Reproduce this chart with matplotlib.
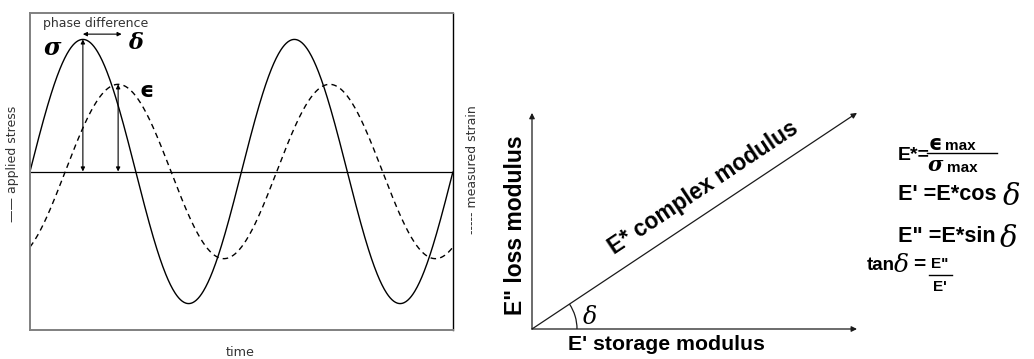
import numpy as np
import matplotlib
matplotlib.use("Agg")
import matplotlib.pyplot as plt
from matplotlib.patches import Arc
from matplotlib.lines import Line2D

W, H = 1034, 359

# Oscillation: phase angle (degrees) over two cycles
phase_deg = np.linspace(0, 720, 721)
stress_amp = 1.0      # applied stress amplitude
strain_amp = 0.66     # measured strain amplitude
delta_deg = 60.0      # phase lag of strain behind stress

# Phasor diagram components
storage_modulus = 1.0   # E'
loss_modulus = 0.665    # E''

fig = plt.figure(figsize=(W / 100, H / 100), dpi=100)
fig.patch.set_facecolor("white")


def fx(x):
    return x / W


def fy(y):
    return 1 - y / H


def ftext(x, y, s, **kw):
    fig.text(fx(x), fy(y), s, transform=fig.transFigure, **kw)


SANS = ["DejaVu Sans"]
BOLD = ["Liberation Sans", "DejaVu Sans"]
GREEK = ["DejaVu Serif", "DejaVu Sans"]
GRAY_TXT = "#333333"

# ---------------- left: stress / strain waveforms ----------------
ax = fig.add_axes([fx(30), fy(330), (453 - 30) / W, (330 - 13) / H])
rad = np.radians(phase_deg)
stress = stress_amp * np.sin(rad)
strain = strain_amp * np.sin(rad - np.radians(delta_deg))
ax.plot(phase_deg, stress, color="black", lw=1.0, solid_capstyle="butt")
ax.plot(phase_deg, strain, color="black", lw=1.0, ls=(0, (4, 3)))
ax.axhline(0, color="black", lw=0.9)
ax.set_xlim(0, 720)
ax.set_ylim(-1.2, 1.2)
ax.set_xticks([])
ax.set_yticks([])
for side in ["left", "top", "bottom"]:
    ax.spines[side].set_color("#808080")
    ax.spines[side].set_linewidth(1.4)
ax.spines["right"].set_color("black")
ax.spines["right"].set_linewidth(1.0)

arrow_kw = dict(arrowstyle="<|-|>", color="black", lw=0.8,
                mutation_scale=6, shrinkA=0, shrinkB=0)
peak_stress = 90.0
peak_strain = 90.0 + delta_deg
ax.annotate("", xy=(peak_stress, 0), xytext=(peak_stress, stress_amp),
            arrowprops=arrow_kw)
ax.annotate("", xy=(peak_strain, 0), xytext=(peak_strain, strain_amp),
            arrowprops=arrow_kw)
ax.annotate("", xy=(peak_strain + 6, 1.04), xytext=(peak_stress, 1.04),
            arrowprops=arrow_kw)

ftext(43, 23, "phase difference", family=SANS, fontsize=9, color=GRAY_TXT,
      ha="left", va="center")
ftext(52, 48, "σ", family=GREEK, fontsize=17, fontweight="bold",
      fontstyle="italic", ha="center", va="center")
ftext(136, 43, "δ", family=GREEK, fontsize=16, fontweight="bold",
      fontstyle="italic", ha="center", va="center")
ftext(147, 91, "ϵ", family=SANS, fontsize=16, fontweight="bold",
      ha="center", va="center")
ftext(13, 164, "—— applied stress", family=SANS, fontsize=9,
      color=GRAY_TXT, rotation=90, ha="center", va="center")
ftext(472, 170, "----- measured strain", family=SANS, fontsize=9,
      color=GRAY_TXT, rotation=90, ha="center", va="center")
ftext(240, 352, "time", family=SANS, fontsize=9.2, color=GRAY_TXT,
      ha="center", va="center")

# ---------------- right: complex modulus phasor ----------------
scale = 325.0  # pixels per modulus unit
ox, oy = 532, 329
bx = fig.add_axes([fx(480), 0, (W - 480) / W, 1])
bx.set_xlim(-(ox - 480) / scale, (W - ox) / scale)
bx.set_ylim(-(H - oy) / scale, oy / scale)
bx.axis("off")

vec_kw = dict(arrowstyle="-|>", color="#1a1a1a", lw=0.9,
              mutation_scale=8, shrinkA=0, shrinkB=0)
bx.annotate("", xy=(storage_modulus, 0), xytext=(0, 0), arrowprops=vec_kw)
bx.annotate("", xy=(0, loss_modulus), xytext=(0, 0), arrowprops=vec_kw)
bx.annotate("", xy=(storage_modulus, loss_modulus), xytext=(0, 0),
            arrowprops=vec_kw)
delta_phasor = np.degrees(np.arctan2(loss_modulus, storage_modulus))
r_arc = 45 / scale
bx.add_patch(Arc((0, 0), 2 * r_arc, 2 * r_arc, theta1=0, theta2=delta_phasor,
                 color="#1a1a1a", lw=0.9))
ftext(590, 317, "δ", family=GREEK, fontsize=17, fontstyle="italic",
      ha="center", va="center")

ftext(568, 345, "E' storage modulus", family=BOLD, fontsize=15.3,
      fontweight="bold", ha="left", va="center")
ftext(515, 225, "E\" loss modulus", family=BOLD, fontsize=16.5,
      fontweight="bold", rotation=90, ha="center", va="center")
ftext(707, 193, "E* complex modulus", family=BOLD, fontsize=16.3,
      fontweight="bold", rotation=delta_phasor, rotation_mode="anchor",
      ha="center", va="baseline")

# formulas
fb = dict(family=BOLD, fontweight="bold")
ftext(898, 156, "E*=", fontsize=14, ha="left", va="center", **fb)
fig.add_artist(Line2D([fx(927), fx(997)], [fy(153), fy(153)], color="black",
                      lw=1.0, transform=fig.transFigure))
ftext(935, 144, "ϵ", family=SANS, fontsize=15, fontweight="bold",
      ha="center", va="center")
ftext(945, 150, "max", fontsize=11, ha="left", va="baseline", **fb)
ftext(935, 165, "σ", family=GREEK, fontsize=15, fontweight="bold",
      fontstyle="italic", ha="center", va="center")
ftext(947, 172, "max", fontsize=11, ha="left", va="baseline", **fb)

ftext(898, 195, "E' =E*cos", fontsize=15.6, ha="left", va="center", **fb)
ftext(1003, 197, "δ", family=GREEK, fontsize=21, fontstyle="italic",
      ha="left", va="center")
ftext(898, 237, "E\" =E*sin", fontsize=15.6, ha="left", va="center", **fb)
ftext(1000, 239, "δ", family=GREEK, fontsize=21, fontstyle="italic",
      ha="left", va="center")

ftext(867, 266, "tan", fontsize=13.5, ha="left", va="center", **fb)
ftext(901, 266, "δ", family=GREEK, fontsize=18, fontstyle="italic",
      ha="center", va="center")
ftext(913, 265, "=", fontsize=15, ha="left", va="center", **fb)
ftext(940, 264, "E\"", fontsize=11, ha="center", va="center", **fb)
fig.add_artist(Line2D([fx(929), fx(952)], [fy(275), fy(275)], color="black",
                      lw=1.0, transform=fig.transFigure))
ftext(940, 287, "E'", fontsize=11, ha="center", va="center", **fb)

fig.savefig("out.png", dpi=100, facecolor="white")
